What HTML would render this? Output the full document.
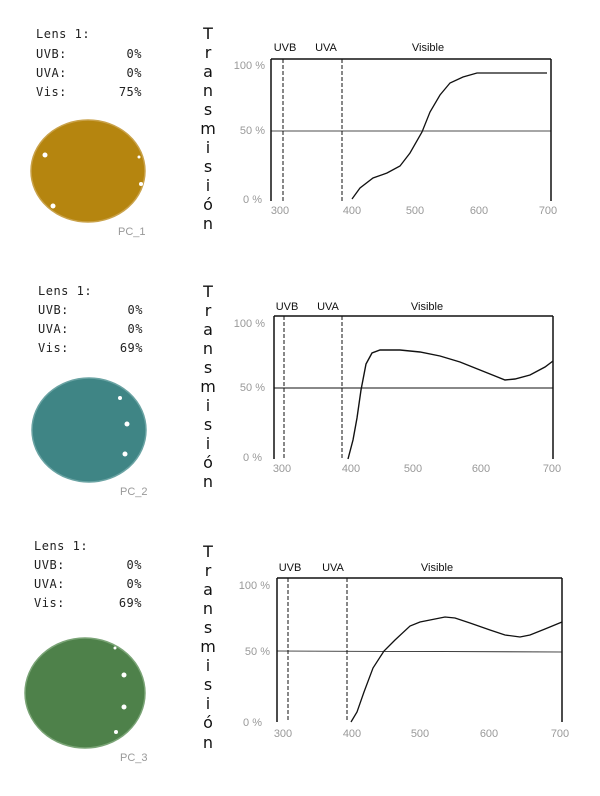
<!DOCTYPE html>
<html><head><meta charset="utf-8"><style>
body{margin:0;background:#fff;}
svg{display:block;}
.m{font-family:"DejaVu Sans Mono","Liberation Mono",monospace;font-size:12px;fill:#222;letter-spacing:0.5px;}
.t{font-family:"DejaVu Sans","Liberation Sans",sans-serif;font-size:16px;fill:#111;}
.g{font-family:"Liberation Sans",sans-serif;font-size:11px;fill:#999;}
.h{font-family:"Liberation Sans",sans-serif;font-size:11px;fill:#111;}
</style></head><body>
<svg width="600" height="796" viewBox="0 0 600 796" xmlns="http://www.w3.org/2000/svg">
<!-- Panel 1 -->
<g class="m">
<text x="36" y="38">Lens 1:</text>
<text x="36" y="58">UVB:</text><text x="142" y="58" text-anchor="end">0%</text>
<text x="36" y="77">UVA:</text><text x="142" y="77" text-anchor="end">0%</text>
<text x="36" y="96">Vis:</text><text x="142" y="96" text-anchor="end">75%</text>
</g>
<ellipse cx="88" cy="171" rx="57" ry="51" fill="#b5850f" stroke="#c9a24a" stroke-width="1.5"/>
<circle cx="45" cy="155" r="2.5" fill="#fff"/><circle cx="53" cy="206" r="2.5" fill="#fff"/><circle cx="141" cy="184" r="2" fill="#fff"/><circle cx="139" cy="157" r="1.5" fill="#fff"/>
<text class="g" x="118" y="235">PC_1</text>
<g class="t" text-anchor="middle">
<text x="208" y="39">T</text><text x="208" y="58">r</text><text x="208" y="77">a</text><text x="208" y="96">n</text><text x="208" y="115">s</text><text x="208" y="134">m</text><text x="208" y="153">i</text><text x="208" y="172">s</text><text x="208" y="191">i</text><text x="208" y="210">ó</text><text x="208" y="229">n</text>
</g>
<g stroke="#111" fill="none">
<line x1="271" y1="59" x2="551" y2="59" stroke-width="1.5"/>
<line x1="271" y1="131" x2="551" y2="131" stroke-width="0.8"/>
<line x1="271" y1="59" x2="271" y2="201" stroke-width="1.5"/>
<line x1="551" y1="59" x2="551" y2="201" stroke-width="1.5"/>
<line x1="283" y1="59" x2="283" y2="201" stroke-dasharray="4,2"/>
<line x1="342" y1="59" x2="342" y2="201" stroke-dasharray="4,2"/>
<polyline stroke-width="1.3" points="352,199 360,188 373,178 387,173 400,166 410,153 422,132 430,112 440,95 450,83 463,77 477,73 547,73"/>
</g>
<text class="h" x="285" y="51" text-anchor="middle">UVB</text><text class="h" x="326" y="51" text-anchor="middle">UVA</text><text class="h" x="428" y="51" text-anchor="middle">Visible</text>
<g class="g"><text x="265" y="69" text-anchor="end">100 %</text><text x="265" y="134" text-anchor="end">50 %</text><text x="262" y="203" text-anchor="end">0 %</text></g>
<g class="g" text-anchor="middle"><text x="280" y="214">300</text><text x="352" y="214">400</text><text x="415" y="214">500</text><text x="479" y="214">600</text><text x="548" y="214">700</text></g>

<!-- Panel 2 -->
<g class="m">
<text x="38" y="295">Lens 1:</text>
<text x="38" y="314">UVB:</text><text x="143" y="314" text-anchor="end">0%</text>
<text x="38" y="333">UVA:</text><text x="143" y="333" text-anchor="end">0%</text>
<text x="38" y="352">Vis:</text><text x="143" y="352" text-anchor="end">69%</text>
</g>
<ellipse cx="89" cy="430" rx="57" ry="52" fill="#3f8585" stroke="#6aa3a3" stroke-width="1.5"/>
<circle cx="120" cy="398" r="2" fill="#fff"/><circle cx="127" cy="424" r="2.5" fill="#fff"/><circle cx="125" cy="454" r="2.5" fill="#fff"/>
<text class="g" x="120" y="495">PC_2</text>
<g class="t" text-anchor="middle">
<text x="208" y="297">T</text><text x="208" y="316">r</text><text x="208" y="335">a</text><text x="208" y="354">n</text><text x="208" y="373">s</text><text x="208" y="392">m</text><text x="208" y="411">i</text><text x="208" y="430">s</text><text x="208" y="449">i</text><text x="208" y="468">ó</text><text x="208" y="487">n</text>
</g>
<g stroke="#111" fill="none">
<line x1="274" y1="316" x2="553" y2="316" stroke-width="1.5"/>
<line x1="274" y1="388" x2="553" y2="388" stroke-width="1"/>
<line x1="274" y1="316" x2="274" y2="459" stroke-width="1.5"/>
<line x1="553" y1="316" x2="553" y2="459" stroke-width="1.5"/>
<line x1="284" y1="316" x2="284" y2="459" stroke-dasharray="4,2"/>
<line x1="342" y1="316" x2="342" y2="459" stroke-dasharray="4,2"/>
<polyline stroke-width="1.4" points="348,459 353,440 357,418 361,390 366,364 372,353 380,350 400,350 420,352 440,356 460,362 480,370 495,376 505,380 515,379 530,375 545,367 553,361"/>
</g>
<text class="h" x="287" y="310" text-anchor="middle">UVB</text><text class="h" x="328" y="310" text-anchor="middle">UVA</text><text class="h" x="427" y="310" text-anchor="middle">Visible</text>
<g class="g"><text x="265" y="327" text-anchor="end">100 %</text><text x="265" y="391" text-anchor="end">50 %</text><text x="262" y="461" text-anchor="end">0 %</text></g>
<g class="g" text-anchor="middle"><text x="282" y="472">300</text><text x="351" y="472">400</text><text x="413" y="472">500</text><text x="481" y="472">600</text><text x="552" y="472">700</text></g>

<!-- Panel 3 -->
<g class="m">
<text x="34" y="550">Lens 1:</text>
<text x="34" y="569">UVB:</text><text x="142" y="569" text-anchor="end">0%</text>
<text x="34" y="588">UVA:</text><text x="142" y="588" text-anchor="end">0%</text>
<text x="34" y="607">Vis:</text><text x="142" y="607" text-anchor="end">69%</text>
</g>
<ellipse cx="85" cy="693" rx="60" ry="55" fill="#4e814a" stroke="#7aa476" stroke-width="1.5"/>
<circle cx="124" cy="675" r="2.5" fill="#fff"/><circle cx="124" cy="707" r="2.5" fill="#fff"/><circle cx="116" cy="732" r="2" fill="#fff"/><circle cx="115" cy="648" r="1.5" fill="#fff"/>
<text class="g" x="120" y="761">PC_3</text>
<g class="t" text-anchor="middle">
<text x="208" y="557">T</text><text x="208" y="576">r</text><text x="208" y="595">a</text><text x="208" y="614">n</text><text x="208" y="633">s</text><text x="208" y="652">m</text><text x="208" y="671">i</text><text x="208" y="690">s</text><text x="208" y="709">i</text><text x="208" y="728">ó</text><text x="208" y="748">n</text>
</g>
<g stroke="#111" fill="none">
<line x1="277" y1="578" x2="562" y2="578" stroke-width="1.5"/>
<line x1="277" y1="651" x2="562" y2="652" stroke-width="0.8"/>
<line x1="277" y1="578" x2="277" y2="722" stroke-width="1.5"/>
<line x1="562" y1="578" x2="562" y2="722" stroke-width="1.5"/>
<line x1="288" y1="578" x2="288" y2="722" stroke-dasharray="4,2"/>
<line x1="347" y1="578" x2="347" y2="722" stroke-dasharray="4,2"/>
<polyline stroke-width="1.3" points="351,722 357,712 364,692 373,668 384,651 395,640 410,626 420,622 430,620 445,617 455,618 470,623 490,630 505,635 520,637 530,635 545,629 562,622"/>
</g>
<text class="h" x="290" y="571" text-anchor="middle">UVB</text><text class="h" x="333" y="571" text-anchor="middle">UVA</text><text class="h" x="437" y="571" text-anchor="middle">Visible</text>
<g class="g"><text x="270" y="589" text-anchor="end">100 %</text><text x="270" y="655" text-anchor="end">50 %</text><text x="262" y="726" text-anchor="end">0 %</text></g>
<g class="g" text-anchor="middle"><text x="283" y="737">300</text><text x="352" y="737">400</text><text x="420" y="737">500</text><text x="489" y="737">600</text><text x="560" y="737">700</text></g>
</svg>
</body></html>
